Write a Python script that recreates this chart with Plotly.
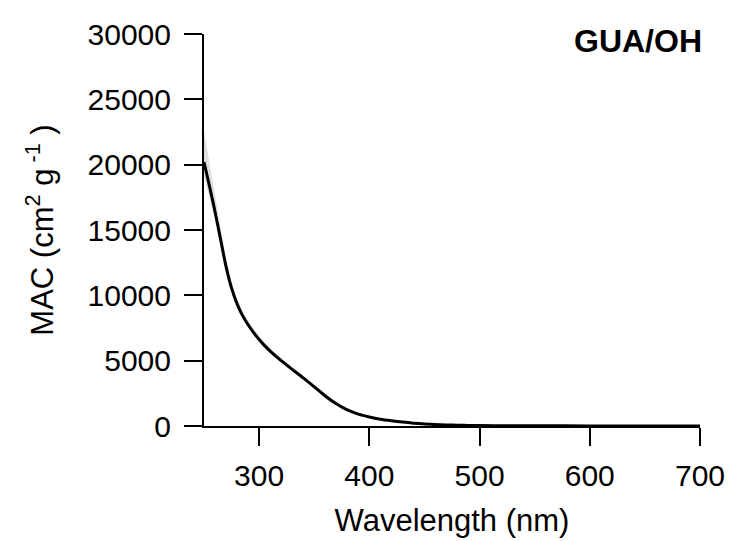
import plotly.graph_objects as go

wavelength = [250, 255, 260, 265, 270, 275, 280, 285, 290, 295, 300, 305, 310, 320, 330,
              340, 350, 360, 370, 380, 390, 400, 410, 420, 430, 440, 450, 460, 470, 480,
              490, 500, 525, 550, 600, 650, 700]
mac = [20200, 18350, 16400, 14300, 12200, 10550, 9350, 8450, 7750, 7150, 6620, 6150, 5730,
       5000, 4330, 3680, 3000, 2300, 1700, 1230, 910, 690, 520, 400, 300, 220, 160, 110,
       80, 60, 45, 35, 22, 15, 8, 4, 2]
spread = [2400, 1700, 1250, 900, 650, 480, 400, 340, 300, 280, 260, 240, 230, 200, 180,
          160, 150, 130, 110, 100, 90, 80, 70, 60, 55, 50, 40, 35, 30, 25,
          22, 20, 15, 12, 8, 6, 5]
ytickvals = [0, 5000, 10000, 15000, 20000, 25000, 30000]
yticktext = ["0", "5000", "10000", "15000", "20000", "25000", "30000"]
xtickvals = [300, 400, 500, 600, 700]

upper = [m + s for m, s in zip(mac, spread)]
lower = [max(m - 0.45 * s, 0) for m, s in zip(mac, spread)]

FONT = "Arial, 'Liberation Sans', sans-serif"

fig = go.Figure()
fig.add_trace(go.Scatter(x=wavelength, y=upper, mode="lines", line=dict(width=0),
                         hoverinfo="skip", showlegend=False))
fig.add_trace(go.Scatter(x=wavelength, y=lower, mode="lines", line=dict(width=0),
                         fill="tonexty", fillcolor="rgba(200,200,200,0.6)",
                         hoverinfo="skip", showlegend=False))
fig.add_trace(go.Scatter(x=wavelength, y=mac, mode="lines",
                         line=dict(color="black", width=3, shape="spline", smoothing=0.8),
                         showlegend=False))

fig.update_layout(
    width=734, height=541,
    margin=dict(l=204, r=34, t=34, b=115),
    paper_bgcolor="white", plot_bgcolor="white",
    font=dict(family=FONT, size=30, color="black"),
    xaxis=dict(range=[250, 700], tickvals=xtickvals, automargin=False,
               showgrid=False, zeroline=False, showline=True, linecolor="black",
               linewidth=2, ticks="outside", ticklen=18, tickwidth=2, tickcolor="black",
               tickfont=dict(size=30), ticklabelstandoff=4,
               title=dict(text="Wavelength (nm)", font=dict(size=31), standoff=18)),
    yaxis=dict(range=[0, 30000], tickvals=ytickvals, ticktext=yticktext, automargin=False,
               showgrid=False, zeroline=False, showline=True, linecolor="black",
               linewidth=2, ticks="outside", ticklen=18, tickwidth=2, tickcolor="black",
               tickfont=dict(size=30), ticklabelstandoff=7,
               title=dict(text="MAC (cm<sup>2</sup> g<sup> -1</sup> )", font=dict(size=31),
                          standoff=25)),
    annotations=[dict(text="<b>GUA/OH</b>", xref="paper", yref="paper", x=1, y=1,
                      xanchor="right", yanchor="top", xshift=4, yshift=13, showarrow=False,
                      font=dict(size=32, family=FONT, color="black"))],
)

fig.write_html("out.html")
